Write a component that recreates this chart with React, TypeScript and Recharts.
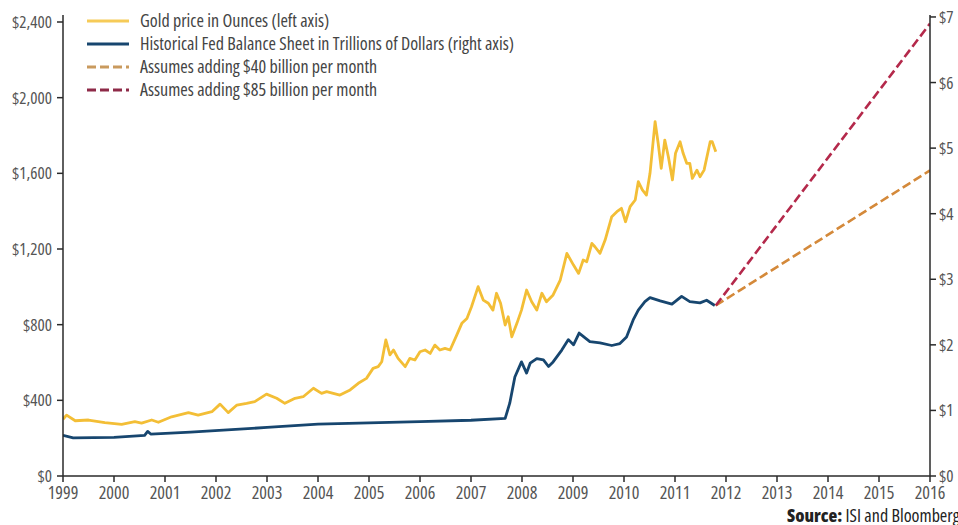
import { Line, LineChart, XAxis, YAxis } from "recharts";

const yearTicks = [1999, 2000, 2001, 2002, 2003, 2004, 2005, 2006, 2007, 2008, 2009, 2010, 2011, 2012, 2013, 2014, 2015, 2016];
const leftTicks = [0, 400, 800, 1200, 1600, 2000, 2400];
const rightTicks = [0, 1, 2, 3, 4, 5, 6, 7];

// gold price, $ per ounce (left axis)
const goldYears = [
  1999.0, 1999.07, 1999.24, 1999.5, 1999.82, 2000.15, 2000.41, 2000.54, 2000.74, 2000.87,
  2001.13, 2001.46, 2001.65, 2001.92, 2002.08, 2002.24, 2002.41, 2002.6, 2002.76, 2002.99,
  2003.19, 2003.35, 2003.55, 2003.71, 2003.91, 2004.07, 2004.17, 2004.43, 2004.63, 2004.79,
  2004.95, 2005.08, 2005.18, 2005.25, 2005.33, 2005.41, 2005.48, 2005.57, 2005.71, 2005.8,
  2005.9, 2006.0, 2006.1, 2006.2, 2006.29, 2006.39, 2006.49, 2006.59, 2006.72, 2006.82,
  2006.92, 2007.01, 2007.14, 2007.24, 2007.34, 2007.43, 2007.5, 2007.58, 2007.67, 2007.73,
  2007.8, 2007.9, 2007.99, 2008.09, 2008.19, 2008.29, 2008.39, 2008.48, 2008.61, 2008.75,
  2008.88, 2009.01, 2009.11, 2009.2, 2009.27, 2009.37, 2009.43, 2009.53, 2009.63, 2009.76,
  2009.86, 2009.95, 2010.03, 2010.12, 2010.22, 2010.28, 2010.36, 2010.44, 2010.51, 2010.61,
  2010.67, 2010.73, 2010.8, 2010.87, 2010.95, 2011.01, 2011.1, 2011.16, 2011.23, 2011.29,
  2011.34, 2011.43, 2011.49, 2011.57, 2011.69, 2011.73, 2011.8,
];
const goldPrices = [
  300, 322, 292, 296, 282, 273, 287, 280, 296, 284,
  313, 335, 322, 340, 380, 335, 375, 384, 393, 433,
  411, 384, 411, 419, 464, 437, 446, 428, 455, 490,
  516, 569, 578, 604, 719, 640, 666, 622, 578, 622,
  613, 657, 666, 648, 692, 666, 675, 666, 745, 807,
  833, 895, 1001, 930, 913, 877, 966, 913, 798, 842,
  736, 807, 877, 983, 921, 877, 966, 921, 957, 1036,
  1177, 1115, 1071, 1142, 1133, 1230, 1212, 1177, 1247, 1371,
  1397, 1415, 1344, 1424, 1459, 1556, 1512, 1485, 1600, 1873,
  1759, 1626, 1776, 1688, 1565, 1706, 1767, 1706, 1653, 1653,
  1573, 1617, 1582, 1617, 1767, 1767, 1714,
];

// Fed balance sheet, $ trillions (right axis)
const fedYears = [
  1999.0, 1999.2, 2000.0, 2000.6, 2000.66, 2000.72, 2001.5, 2003.0, 2004.0, 2005.0,
  2006.0, 2007.0, 2007.67, 2007.76, 2007.86, 2007.99, 2008.09, 2008.16, 2008.29, 2008.42,
  2008.52, 2008.61, 2008.78, 2008.91, 2009.01, 2009.12, 2009.33, 2009.53, 2009.76, 2009.92,
  2010.05, 2010.18, 2010.28, 2010.41, 2010.51, 2010.71, 2010.94, 2011.13, 2011.29, 2011.49,
  2011.62, 2011.78,
];
const fedTrillions = [
  0.62, 0.58, 0.59, 0.62, 0.68, 0.64, 0.67, 0.74, 0.79, 0.81,
  0.83, 0.85, 0.88, 1.11, 1.51, 1.74, 1.57, 1.72, 1.79, 1.77,
  1.67, 1.74, 1.92, 2.08, 2.0, 2.18, 2.05, 2.03, 1.99, 2.02,
  2.12, 2.38, 2.53, 2.66, 2.72, 2.67, 2.62, 2.74, 2.66, 2.64,
  2.68, 2.6,
];

// projections
const projYears = [2011.8, 2016];
const add40 = [2.6, 4.66];
const add85 = [2.6, 6.9];

const toRows = (xs: number[], ys: number[]) => xs.map((year, i) => ({ year, value: ys[i] }));
const gold = toRows(goldYears, goldPrices);
const fed = toRows(fedYears, fedTrillions);
const proj40 = toRows(projYears, add40);
const proj85 = toRows(projYears, add85);

const GOLD = "#F3BE36";
const NAVY = "#17466F";
const ORANGE = "#D4893A";
const CRIMSON = "#B4294B";
const AXIS = "#2a2a2a";

const legendItems = [
  { label: "Gold price in Ounces (left axis)", color: "#F6CB58", dash: false },
  { label: "Historical Fed Balance Sheet in Trillions of Dollars (right axis)", color: NAVY, dash: false },
  { label: "Assumes adding $40 billion per month", color: "#C99A5E", dash: true },
  { label: "Assumes adding $85 billion per month", color: "#8E2A48", dash: true },
];

function LegendBox() {
  return (
    <div style={{ position: "absolute", left: 87, top: 9, fontSize: 18, color: "#444", lineHeight: "23px" }}>
      {legendItems.map((it) => (
        <div key={it.label} style={{ display: "flex", alignItems: "center", height: 23 }}>
          <svg width={42} height={6} style={{ marginRight: 11 }}>
            <line x1={0} y1={3} x2={42} y2={3} stroke={it.color} strokeWidth={3}
              strokeDasharray={it.dash ? "9 4" : undefined} />
          </svg>
          <span style={{ whiteSpace: "nowrap" }}>{it.label}</span>
        </div>
      ))}
    </div>
  );
}

export default function App() {
  const tick = { fill: "#555", fontSize: 17 };
  return (
    <div style={{ position: "relative", width: 958, height: 525, overflow: "hidden", background: "#fff",
      fontFamily: '"Open Sans", sans-serif', fontStretch: "87%" }}>
      <style>{`body{margin:0}`}</style>
      <LineChart width={958} height={525} margin={{ top: 15, right: 0, bottom: 19, left: 8 }}>
        <XAxis
          type="number"
          dataKey="year"
          domain={[1999, 2016]}
          ticks={yearTicks}
          allowDataOverflow
          height={30}
          tick={{ ...tick, fontSize: 18 }}
          tickSize={6}
          tickMargin={4}
          stroke={AXIS}
          strokeWidth={1.5}
        />
        <YAxis
          yAxisId="left"
          domain={[0, 2437]}
          ticks={leftTicks}
          allowDataOverflow
          width={55}
          tick={tick}
          tickSize={6}
          tickMargin={5}
          stroke={AXIS}
          strokeWidth={1.5}
          tickFormatter={(v: number) => `$${v.toLocaleString("en-US")}`}
        />
        <YAxis
          yAxisId="right"
          orientation="right"
          domain={[0, 7.03]}
          ticks={rightTicks}
          allowDataOverflow
          width={28}
          tick={tick}
          tickSize={6}
          tickMargin={3}
          stroke={AXIS}
          strokeWidth={1.5}
          tickFormatter={(v: number) => `$${v}`}
        />
        <Line yAxisId="left" data={gold} dataKey="value" stroke={GOLD} strokeWidth={2.8}
          dot={false} isAnimationActive={false} strokeLinejoin="round" />
        <Line yAxisId="right" data={fed} dataKey="value" stroke={NAVY} strokeWidth={2.8}
          dot={false} isAnimationActive={false} strokeLinejoin="round" />
        <Line yAxisId="right" data={proj40} dataKey="value" stroke={ORANGE} strokeWidth={2.6}
          strokeDasharray="9 4" dot={false} isAnimationActive={false} />
        <Line yAxisId="right" data={proj85} dataKey="value" stroke={CRIMSON} strokeWidth={2.6}
          strokeDasharray="9 4" dot={false} isAnimationActive={false} />
      </LineChart>
      <LegendBox />
      <div style={{ position: "absolute", left: 787, top: 503, fontSize: 18, color: "#222", whiteSpace: "nowrap" }}>
        <b style={{ fontWeight: 800 }}>Source:</b> ISI and Bloomberg
      </div>
    </div>
  );
}
